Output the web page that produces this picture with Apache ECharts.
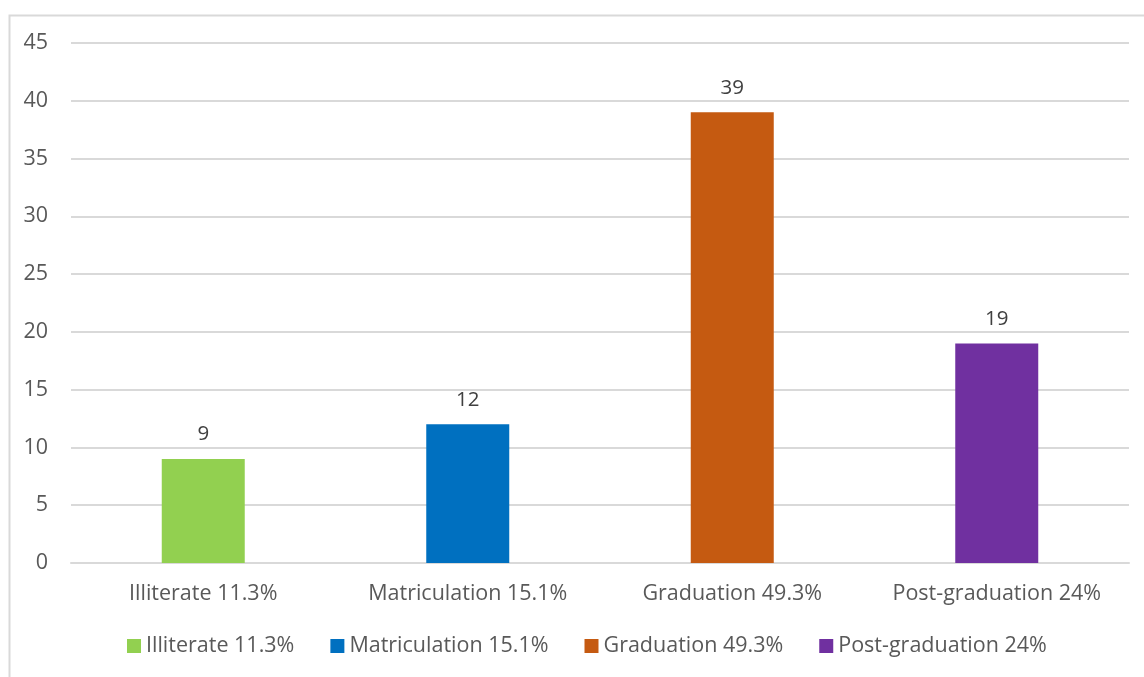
<!DOCTYPE html>
<html>
<head>
<meta charset="utf-8">
<script src="https://cdn.jsdelivr.net/npm/echarts@6/dist/echarts.min.js"></script>
<style>
  html, body { margin: 0; padding: 0; background: #fff; }
  #chart { width: 1144px; height: 677px; }
</style>
</head>
<body>
<div id="chart"></div>
<script>
const categories = ['Illiterate 11.3%', 'Matriculation 15.1%', 'Graduation 49.3%', 'Post-graduation 24%'];
const counts = [9, 12, 39, 19];
const colors = ['#92D050', '#0070C0', '#C55A11', '#7030A0'];
const yTicks = { min: 0, max: 45, interval: 5 };

const font = '"Open Sans", "Noto Sans", sans-serif';
const textColor = '#595959';
const fs = 21.5;

// one series per category so the legend shows each coloured bar
const series = categories.map((name, i) => ({
  name: name,
  type: 'bar',
  stack: 'one',
  barWidth: 83,
  data: counts.map((v, j) => (j === i ? v : '-')),
  itemStyle: { color: colors[i] },
  label: {
    show: true,
    position: 'top',
    distance: 14,
    color: '#404040',
    fontFamily: font,
    fontSize: 20.5
  }
}));

const chart = echarts.init(document.getElementById('chart'));
chart.setOption({
  animation: false,
  backgroundColor: '#fff',
  graphic: [{
    type: 'rect',
    left: 7, top: 13,
    shape: { width: 1160, height: 700 },
    style: { fill: 'none', stroke: '#d9d9d9', lineWidth: 2 },
    silent: true,
    z: -1
  }],
  grid: { left: 71, right: 15, top: 43, bottom: 114 },
  legend: {
    bottom: 15,
    left: 122,
    itemWidth: 14,
    itemHeight: 14,
    itemGap: 36,
    icon: 'rect',
    textStyle: { color: textColor, fontFamily: font, fontSize: fs },
    data: categories
  },
  xAxis: {
    type: 'category',
    data: categories,
    axisLine: { lineStyle: { color: '#d9d9d9', width: 2 } },
    axisTick: { show: false },
    axisLabel: { interval: 0, color: textColor, fontFamily: font, fontSize: fs, margin: 20 }
  },
  yAxis: {
    type: 'value',
    min: yTicks.min,
    max: yTicks.max,
    interval: yTicks.interval,
    axisLine: { show: false },
    axisTick: { show: false },
    splitLine: { lineStyle: { color: '#d9d9d9', width: 2 } },
    axisLabel: { color: textColor, fontFamily: font, fontSize: fs, margin: 23 }
  },
  series: series
});
</script>
</body>
</html>
